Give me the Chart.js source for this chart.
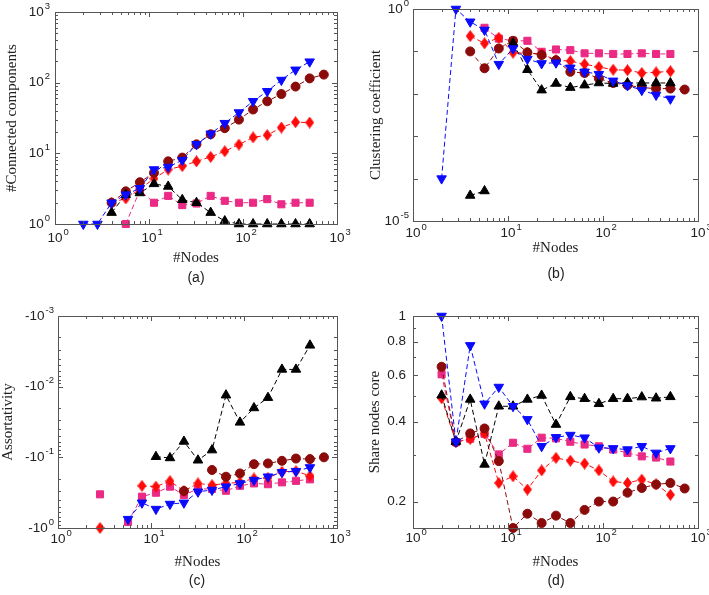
<!DOCTYPE html>
<html>
<head>
<meta charset="utf-8">
<script src="https://cdn.jsdelivr.net/npm/chart.js@4.4.1/dist/chart.umd.min.js"></script>
<style>
  html, body { margin: 0; padding: 0; background: #fff; }
  #wrap { position: relative; width: 709px; height: 595px; overflow: hidden; }
  #wrap canvas { position: absolute; }
  .cap { position: absolute; font: 14px "Liberation Sans", Arial, sans-serif; color: #222; transform: translate(-50%, -50%); }
</style>
</head>
<body>
<div id="wrap">
  <canvas id="chartA" width="354" height="297" style="left:0;top:0"></canvas>
  <canvas id="chartB" width="355" height="297" style="left:354px;top:0"></canvas>
  <canvas id="chartC" width="354" height="298" style="left:0;top:297px"></canvas>
  <canvas id="chartD" width="355" height="298" style="left:354px;top:297px"></canvas>
  <div class="cap" style="left:196px;top:277px">(a)</div>
  <div class="cap" style="left:556px;top:273px">(b)</div>
  <div class="cap" style="left:197px;top:580px">(c)</div>
  <div class="cap" style="left:556px;top:580px">(d)</div>
</div>
<script>
// network sizes (x axis, shared by all panels)
const nodes = [2, 2.83, 4, 5.66, 8, 11.3, 16, 22.6, 32, 45.3, 64, 90.5, 128, 181, 256, 362, 512, 724];

// (a) number of connected components
const compBlue  = [1, 1, 2.0, 2.6, 3.2, 5.9, 6.4, 8.0, 13.4, 18.9, 26.7, 37.8, 54.5, 75.5, 109, 152, 198, null];
const compBlack = [null, null, 1.45, 2.6, 2.75, 3.7, 3.4, 2.2, 2.0, 1.45, 1.1, 1, 1, 1, 1, 1, 1, null];
const compBrown = [null, null, 2.0, 2.9, 3.9, 5.3, 7.7, 8.7, 13.4, 18.6, 22.7, 30, 41.7, 54.5, 69, 88, 115, 130];
const compRed   = [null, null, 2.0, 2.3, 3.1, 4.4, 5.9, 6.6, 7.7, 8.9, 10.7, 13.3, 16.8, 18.1, 23.2, 27.6, 27.3, null];
const compPink  = [null, null, null, 1, 3.0, 2.0, 2.5, 1.85, 1.95, 2.5, 2.13, 2.0, 2.0, 2.25, 1.9, 2.0, 2.0, null];

// (b) clustering coefficient
const clusBlue  = [1e-4, 1.0, 0.5, 0.32, 0.05, 0.117, 0.066, 0.052, 0.054, 0.041, 0.033, 0.029, 0.0202, 0.0157, 0.0122, 0.0094, 0.0076, null];
const clusBlack = [null, null, 4.0e-5, 5.1e-5, null, 0.155, 0.037, 0.0122, 0.0175, 0.014, 0.016, 0.018, 0.0175, 0.018, 0.018, 0.018, 0.018, null];
const clusBrown = [null, null, 0.10, 0.04, 0.117, 0.178, 0.095, 0.082, 0.062, 0.033, 0.031, 0.023, 0.018, 0.016, 0.014, 0.0133, 0.0133, 0.0126];
const clusRed   = [null, null, 0.23, 0.155, 0.21, 0.093, 0.09, 0.088, 0.062, 0.059, 0.05, 0.043, 0.037, 0.036, 0.031, 0.032, 0.034, null];
const clusPink  = [null, null, null, 0.36, 0.2, 0.178, 0.178, 0.098, 0.111, 0.107, 0.09, 0.09, 0.087, 0.087, 0.09, 0.087, 0.087, null];

// (c) assortativity (negative values)
const assoBlue  = [null, null, null, -0.75, -0.44, -0.54, -0.458, -0.44, -0.307, -0.29, -0.26, -0.234, -0.21, -0.188, -0.163, -0.157, -0.139, null];
const assoBlack = [null, null, null, null, null, -0.098, -0.102, -0.0596, -0.11, -0.079, -0.0132, -0.032, -0.02, -0.0143, -0.0057, -0.0057, -0.0026, null];
const assoBrown = [null, null, null, null, null, null, null, -0.3, null, -0.151, -0.188, -0.169, -0.125, -0.122, -0.112, -0.104, -0.106, -0.1];
const assoRed   = [null, -1.0, null, null, -0.253, -0.26, -0.217, -0.3, -0.234, -0.247, -0.234, -0.226, -0.199, -0.195, -0.16, -0.157, -0.183, null];
const assoPink  = [null, -0.334, null, -0.82, -0.36, -0.317, -0.26, -0.34, -0.28, -0.28, -0.297, -0.253, -0.234, -0.24, -0.226, -0.215, -0.205, null];

// (d) share of nodes in the core
const coreBlue  = [1.0, 0.336, 0.775, 0.467, 0.54, 0.457, 0.408, 0.323, 0.349, 0.356, 0.348, 0.319, 0.317, 0.314, 0.323, 0.305, 0.317, null];
const coreBlack = [0.503, 0.336, 0.485, 0.276, 0.457, 0.457, 0.485, 0.502, 0.39, 0.496, 0.488, 0.467, 0.488, 0.488, 0.495, 0.49, 0.496, null];
const coreBrown = [0.644, 0.335, 0.361, 0.377, 0.284, 0.159, 0.18, 0.166, 0.177, 0.166, 0.186, 0.2, 0.2, 0.216, 0.225, 0.232, 0.235, 0.224];
const coreRed   = [0.49, 0.335, 0.344, 0.361, 0.235, 0.249, 0.222, 0.262, 0.292, 0.285, 0.278, 0.262, 0.238, 0.235, 0.242, 0.232, 0.212, null];
const corePink  = [0.603, 0.335, 0.345, 0.36, 0.301, 0.333, 0.316, 0.348, 0.346, 0.336, 0.328, 0.323, 0.314, 0.305, 0.296, 0.293, 0.283, null];

// tick labels
const decadeTicks = [1, 10, 100, 1000];
const decadeExp = ["0", "1", "2", "3"];
const clusTicks = [1e-5, 1e-4, 1e-3, 1e-2, 1e-1, 1];
const clusExp = ["-5", null, null, null, null, "0"];
const assoTicks = [0.001, 0.01, 0.1, 1];
const assoExp = ["-3", "-2", "-1", "0"];
const coreTicks = [0.2, 0.4, 0.6, 0.8, 1];
const coreLabels = ["0.2", "0.4", "0.6", "0.8", "1"];
const coreMinor = [0.3, 0.5, 0.7, 0.9];

const BLUE = "#0a0aff", BLACK = "#000000", BROWN = "#8b0a0a", RED = "#ff0a0a", PINK = "#ea2a84";
const TICK_FONT = '13.5px "Liberation Sans", Arial, sans-serif';
const EXP_FONT = '9.5px "Liberation Sans", Arial, sans-serif';
const TITLE_FONT = '15px "Liberation Serif", "Times New Roman", serif';

function diamond(color) {
  const c = document.createElement("canvas");
  c.width = 9;
  c.height = 12;
  const g = c.getContext("2d");
  g.fillStyle = color;
  g.beginPath();
  g.moveTo(4.5, 0);
  g.lineTo(9, 6);
  g.lineTo(4.5, 12);
  g.lineTo(0, 6);
  g.closePath();
  g.fill();
  return c;
}

function minorDecades(lo, hi) {
  const out = [];
  for (let d = lo; d < hi; d *= 10) {
    for (let k = 2; k <= 9; k++) out.push(d * k);
  }
  return out;
}

function powLabel(ctx, pre, exp, x, y, align) {
  ctx.font = TICK_FONT;
  const wb = ctx.measureText(pre).width;
  ctx.font = EXP_FONT;
  const we = exp ? ctx.measureText(exp).width : 0;
  const x0 = align === "right" ? x - wb - we - 1 : x - wb / 2;
  ctx.textAlign = "left";
  ctx.textBaseline = "middle";
  ctx.font = TICK_FONT;
  ctx.fillText(pre, x0, y);
  if (exp) {
    ctx.font = EXP_FONT;
    ctx.fillText(exp, x0 + wb + 1, y - 6);
  }
}

// box, inward ticks, tick labels and axis titles
const decor = {
  id: "decor",
  afterDraw(chart, args, o) {
    const { ctx, chartArea: a, scales: { x, y } } = chart;
    ctx.save();
    ctx.strokeStyle = "#555";
    ctx.lineWidth = 1;
    ctx.strokeRect(a.left + 0.5, a.top + 0.5, a.right - a.left, a.bottom - a.top);
    ctx.beginPath();
    const xt = (v, len) => {
      const px = Math.round(x.getPixelForValue(v)) + 0.5;
      ctx.moveTo(px, a.bottom); ctx.lineTo(px, a.bottom - len);
      ctx.moveTo(px, a.top); ctx.lineTo(px, a.top + len);
    };
    const yt = (v, len) => {
      const py = Math.round(y.getPixelForValue(v)) + 0.5;
      ctx.moveTo(a.left, py); ctx.lineTo(a.left + len, py);
      ctx.moveTo(a.right, py); ctx.lineTo(a.right - len, py);
    };
    decadeTicks.forEach((v) => xt(v, 5));
    minorDecades(1, 1000).forEach((v) => xt(v, 3));
    o.yMajor.forEach((v) => yt(v, 5));
    o.yMinor.forEach((v) => yt(v, 3));
    ctx.stroke();

    ctx.fillStyle = "#222";
    decadeTicks.forEach((v, i) => powLabel(ctx, "10", decadeExp[i], x.getPixelForValue(v), a.bottom + o.xLabelGap, "center"));
    o.yMajor.forEach((v, i) => {
      const lab = o.yLabels[i];
      if (lab === null) return;
      const py = y.getPixelForValue(v);
      if (o.yPre === null) powLabel(ctx, lab, "", a.left - o.yLabelGap, py, "right");
      else powLabel(ctx, o.yPre, lab, a.left - o.yLabelGap, py, "right");
    });

    ctx.font = TITLE_FONT;
    ctx.textAlign = "center";
    ctx.textBaseline = "middle";
    ctx.fillText("#Nodes", (a.left + a.right) / 2, o.xTitleY);
    ctx.translate(o.yTitleX, (a.top + a.bottom) / 2);
    ctx.rotate(-Math.PI / 2);
    ctx.fillText(o.yTitle, 0, 0);
    ctx.restore();
  },
};

function series(vals, color, style, mapY) {
  const radius = { triangle: 5.5, down: 5.5, circle: 4.5, rect: 5, diamond: 6 }[style];
  return {
    data: nodes.map((n, i) => ({ x: n, y: vals[i] === null ? null : (mapY ? mapY(vals[i]) : vals[i]) })),
    borderColor: color,
    backgroundColor: color,
    borderWidth: 1,
    borderDash: [5, 3],
    pointStyle: style === "diamond" ? diamond(color) : style === "down" ? "triangle" : style,
    rotation: style === "down" ? 180 : 0,
    pointRadius: radius,
    pointBorderWidth: 1,
    pointBackgroundColor: color,
    pointBorderColor: color,
    tension: 0,
    spanGaps: false,
    clip: false,
  };
}

function makeChart(id, sets, yScale, padding, deco, mapY) {
  const colors = [BLUE, BLACK, BROWN, RED, PINK];
  const styles = ["down", "triangle", "circle", "diamond", "rect"];
  return new Chart(document.getElementById(id), {
    type: "line",
    data: { datasets: sets.map((s, i) => series(s, colors[i], styles[i], mapY)) },
    options: {
      responsive: false,
      animation: false,
      events: [],
      layout: { padding: padding, autoPadding: false },
      scales: {
        x: { type: "logarithmic", min: 1, max: 1000, display: false },
        y: Object.assign({ type: "logarithmic", display: false }, yScale),
      },
      plugins: { legend: { display: false }, tooltip: { enabled: false }, decor: deco },
    },
    plugins: [decor],
  });
}

document.addEventListener("DOMContentLoaded", () => {
  makeChart("chartA", [compBlue, compBlack, compBrown, compRed, compPink],
    { min: 1, max: 1000 },
    { left: 55, top: 12, right: 17, bottom: 73 },
    { yMajor: decadeTicks, yMinor: minorDecades(1, 1000), yLabels: decadeExp, yPre: "10",
      xLabelGap: 14, yLabelGap: 5, xTitleY: 258, yTitleX: 12.5, yTitle: "#Connected components" });

  makeChart("chartB", [clusBlue, clusBlack, clusBrown, clusRed, clusPink],
    { min: 1e-5, max: 1 },
    { left: 59, top: 9, right: 11, bottom: 76 },
    { yMajor: clusTicks, yMinor: [], yLabels: clusExp, yPre: "10",
      xLabelGap: 12, yLabelGap: 4, xTitleY: 248.5, yTitleX: 22, yTitle: "Clustering coefficient" });

  makeChart("chartC", [assoBlue, assoBlack, assoBrown, assoRed, assoPink],
    { min: 0.001, max: 1, reverse: true },
    { left: 58, top: 19, right: 17, bottom: 67 },
    { yMajor: assoTicks, yMinor: minorDecades(0.001, 1), yLabels: assoExp, yPre: "-10",
      xLabelGap: 11, yLabelGap: 4, xTitleY: 265, yTitleX: 8.5, yTitle: "Assortativity" },
    (v) => -v);

  makeChart("chartD", [coreBlue, coreBlack, coreBrown, coreRed, corePink],
    { min: 0.159, max: 1 },
    { left: 59, top: 19, right: 11, bottom: 67 },
    { yMajor: coreTicks, yMinor: coreMinor, yLabels: coreLabels, yPre: null,
      xLabelGap: 10, yLabelGap: 6, xTitleY: 265, yTitleX: 21, yTitle: "Share nodes core" });
});
</script>
</body>
</html>
